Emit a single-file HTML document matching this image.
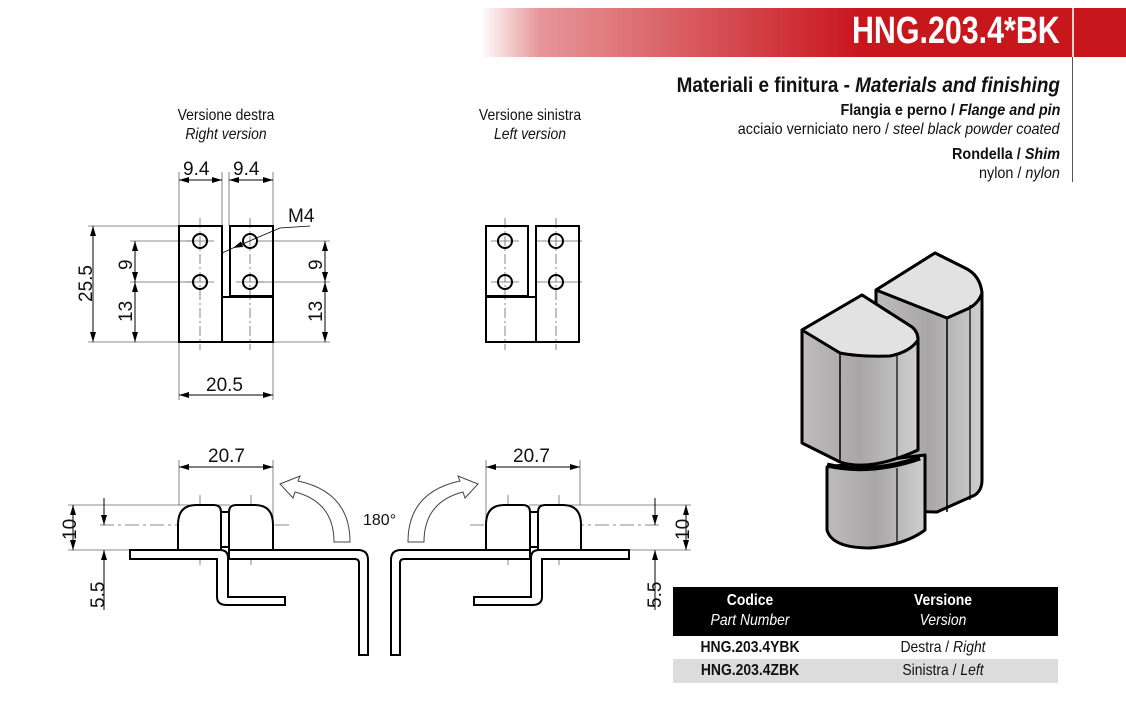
<!DOCTYPE html>
<html><head><meta charset="utf-8"><style>
html,body{margin:0;padding:0;background:#fff;}
body{width:1126px;height:708px;position:relative;overflow:hidden;font-family:"Liberation Sans",sans-serif;}
.t{position:absolute;white-space:nowrap;color:#111;}
.r{transform-origin:right center;transform:scaleX(0.9);}
.c{transform:translateX(-50%) scaleX(0.87);text-align:center;}
</style></head><body>
<div style="position:absolute;left:480px;top:8px;width:646px;height:49px;background:linear-gradient(to right,rgba(200,22,29,0) 0px,rgba(200,22,29,0.45) 60px,#c8161d 380px,#c8161d 100%);"></div>
<div style="position:absolute;left:1072px;top:8px;width:2px;height:49px;background:#f4d0d0;"></div>
<div style="position:absolute;left:1072px;top:57px;width:1px;height:125px;background:#555;"></div>
<div class="t" style="right:66px;top:10px;font-size:38px;font-weight:bold;color:#fff;transform-origin:right center;transform:scaleX(0.8);">HNG.203.4*BK</div>
<div class="t r" style="right:66px;top:74px;font-size:21px;font-weight:bold;">Materiali e finitura - <i>Materials and finishing</i></div>
<div class="t r" style="right:66px;top:102px;font-size:16px;font-weight:bold;">Flangia e perno / <i>Flange and pin</i></div>
<div class="t r" style="right:66px;top:121px;font-size:16px;">acciaio verniciato nero / <i>steel black powder coated</i></div>
<div class="t r" style="right:66px;top:146px;font-size:16px;font-weight:bold;">Rondella / <i>Shim</i></div>
<div class="t r" style="right:66px;top:165px;font-size:16px;">nylon / <i>nylon</i></div>

<div class="t c" style="left:226px;top:106px;font-size:16px;line-height:19px;">Versione destra<br><i>Right version</i></div>
<div class="t c" style="left:530px;top:106px;font-size:16px;line-height:19px;">Versione sinistra<br><i>Left version</i></div>

<div style="position:absolute;left:673px;top:587px;width:385px;height:49px;background:#000;"></div>
<div style="position:absolute;left:673px;top:659px;width:385px;height:24px;background:#dcdcdc;"></div>
<div class="t c" style="left:750px;top:591px;color:#fff;font-size:16px;line-height:20px;"><b>Codice</b><br><i>Part Number</i></div>
<div class="t c" style="left:943px;top:591px;color:#fff;font-size:16px;line-height:20px;"><b>Versione</b><br><i>Version</i></div>
<div class="t c" style="left:750px;top:639px;font-size:16px;font-weight:bold;">HNG.203.4YBK</div>
<div class="t c" style="left:943px;top:639px;font-size:16px;">Destra / <i>Right</i></div>
<div class="t c" style="left:750px;top:662px;font-size:16px;font-weight:bold;">HNG.203.4ZBK</div>
<div class="t c" style="left:943px;top:662px;font-size:16px;">Sinistra / <i>Left</i></div>

<svg width="1126" height="708" style="position:absolute;left:0;top:0" xmlns="http://www.w3.org/2000/svg">
<defs>
<marker id="a" markerWidth="10" markerHeight="6" refX="10" refY="3" orient="auto-start-reverse" markerUnits="userSpaceOnUse"><path d="M0,0 L10,3 L0,6 Z" fill="#000"/></marker>
<linearGradient id="g" x1="0" x2="1"><stop offset="0" stop-color="#bdbbbb"/><stop offset="0.5" stop-color="#a8a6a6"/><stop offset="1" stop-color="#cfcfcf"/></linearGradient>
<g id="bot">
<g stroke="#666" stroke-width="0.8" fill="none">
<line x1="179" y1="460" x2="179" y2="505"/><line x1="273" y1="460" x2="273" y2="530"/>
<line x1="68" y1="505" x2="230" y2="505"/><line x1="68" y1="550" x2="130" y2="550"/>
<line x1="100" y1="525" x2="290" y2="525" stroke-dasharray="14,4,3,4"/>
<line x1="200" y1="495" x2="200" y2="565" stroke-dasharray="12,3,3,3"/><line x1="251" y1="495" x2="251" y2="565" stroke-dasharray="12,3,3,3"/>
</g>
<g stroke="#000" stroke-width="1" fill="none">
<line x1="179" y1="467" x2="273" y2="467" marker-start="url(#a)" marker-end="url(#a)"/>
<line x1="73" y1="505" x2="73" y2="550" marker-start="url(#a)" marker-end="url(#a)"/>
<line x1="104" y1="498" x2="104" y2="525" marker-end="url(#a)"/>
<line x1="104" y1="610" x2="104" y2="550" marker-end="url(#a)"/>
</g>
<g stroke="#000" stroke-width="2" fill="#fff">
<path d="M178,550 V525 Q178,505 196,505 H214 Q221,505 221,512 V550 Z"/>
<path d="M229,550 V512 Q229,505 236,505 H255 Q273,505 273,525 V550 Z"/>
<rect x="221" y="512" width="8" height="35"/>
<path d="M130,550 H220 Q228,550 228,558 V597 H285 V605 H227 Q217,605 217,597 V559 H130 Z"/>
<path d="M229,550 H358 Q368,550 368,560 V655 H359 V563 Q359,559 355,559 H229 Z"/>
</g>
</g>
</defs>
<g font-family="Liberation Sans, sans-serif" font-size="19" fill="#111">
<g stroke="#666" stroke-width="0.8" fill="none">
<line x1="179" y1="172" x2="179" y2="400"/><line x1="222" y1="172" x2="222" y2="226"/><line x1="229" y1="172" x2="229" y2="226"/><line x1="273" y1="172" x2="273" y2="400"/>
<line x1="88" y1="226" x2="179" y2="226"/><line x1="88" y1="342" x2="179" y2="342"/>
<line x1="130" y1="241" x2="192" y2="241"/><line x1="130" y1="282" x2="192" y2="282"/>
<line x1="258" y1="241" x2="330" y2="241"/><line x1="258" y1="282" x2="330" y2="282"/><line x1="273" y1="342" x2="330" y2="342"/>
<line x1="200" y1="218" x2="200" y2="350" stroke-dasharray="10,3,2,3"/><line x1="250" y1="218" x2="250" y2="350" stroke-dasharray="10,3,2,3"/>
<line x1="186" y1="241" x2="214" y2="241"/><line x1="186" y1="282" x2="214" y2="282"/><line x1="236" y1="282" x2="264" y2="282"/>
</g>
<g stroke="#000" stroke-width="1" fill="none">
<line x1="179" y1="180" x2="222" y2="180" marker-start="url(#a)" marker-end="url(#a)"/>
<line x1="229" y1="180" x2="273" y2="180" marker-start="url(#a)" marker-end="url(#a)"/>
<line x1="93" y1="226" x2="93" y2="342" marker-start="url(#a)" marker-end="url(#a)"/>
<line x1="135" y1="241" x2="135" y2="282" marker-start="url(#a)" marker-end="url(#a)"/>
<line x1="135" y1="282" x2="135" y2="342" marker-start="url(#a)" marker-end="url(#a)"/>
<line x1="325" y1="241" x2="325" y2="282" marker-start="url(#a)" marker-end="url(#a)"/>
<line x1="325" y1="282" x2="325" y2="342" marker-start="url(#a)" marker-end="url(#a)"/>
<line x1="179" y1="395" x2="273" y2="395" marker-start="url(#a)" marker-end="url(#a)"/>
<polyline points="310,226 280,228 233,248" stroke-width="0.8" marker-end="url(#a)"/>
<line x1="222" y1="253" x2="233" y2="248" stroke-width="0.8"/>
</g>
<g stroke="#000" stroke-width="2" fill="none">
<rect x="179" y="226" width="43" height="116"/>
<rect x="230" y="226" width="43" height="70"/>
<rect x="222" y="297" width="51" height="45"/>
<circle cx="200" cy="241" r="7"/><circle cx="200" cy="282" r="7"/><circle cx="250" cy="241" r="7"/><circle cx="250" cy="282" r="7"/>
</g>
<text x="183" y="175">9.4</text><text x="233" y="175">9.4</text><text x="288" y="222">M4</text>
<text x="206" y="391">20.5</text>
<text transform="translate(92,302) rotate(-90)">25.5</text>
<text transform="translate(132,270) rotate(-90)">9</text>
<text transform="translate(132,322) rotate(-90)">13</text>
<text transform="translate(322,270) rotate(-90)">9</text>
<text transform="translate(322,322) rotate(-90)">13</text>

<g stroke="#666" stroke-width="0.8" fill="none">
<line x1="505" y1="218" x2="505" y2="350" stroke-dasharray="10,3,2,3"/><line x1="556" y1="218" x2="556" y2="350" stroke-dasharray="10,3,2,3"/>
<line x1="491" y1="241" x2="519" y2="241"/><line x1="491" y1="282" x2="519" y2="282"/>
<line x1="536" y1="241" x2="582" y2="241"/><line x1="536" y1="282" x2="582" y2="282"/>
</g>
<g stroke="#000" stroke-width="2" fill="none">
<rect x="486" y="226" width="42" height="70"/>
<rect x="486" y="297" width="50" height="45"/>
<rect x="536" y="226" width="43" height="116"/>
<circle cx="505" cy="241" r="7"/><circle cx="505" cy="282" r="7"/><circle cx="556" cy="241" r="7"/><circle cx="556" cy="282" r="7"/>
</g>

<use href="#bot"/>
<use href="#bot" transform="translate(759,0) scale(-1,1)"/>
<text x="208" y="462">20.7</text>
<text x="513" y="462">20.7</text>
<text transform="translate(76,540) rotate(-90)">10</text>
<text transform="translate(104,608) rotate(-90)">5.5</text>
<text transform="translate(689,540) rotate(-90)">10</text>
<text transform="translate(661,608) rotate(-90)">5.5</text>
<text x="363" y="525" font-size="16">180°</text>
<g stroke="#444" stroke-width="1" fill="#fff">
<path d="M334,542 L350,542 Q350,492 298,481 L300,476 L280,484 L293,498 L295,492 Q334,502 334,542 Z"/>
<path d="M424,542 L408,542 Q408,492 460,481 L458,476 L478,484 L465,498 L463,492 Q424,502 424,542 Z"/>
</g>

<g stroke="#000" stroke-width="3" stroke-linejoin="round">
<path d="M876,290 L876,500 Q900,512 937,512 L975,495 Q982,490 982,480 L982,293 Q980,275 965,268 L935,253 Z" fill="url(#g)"/>
<path d="M876,290 L935,253 L965,268 Q980,275 982,293 Q978,305 965,310 L947,318 Z" fill="#e2e2e2"/>
<line x1="947" y1="318" x2="947" y2="512" stroke-width="1.5"/>
<line x1="970" y1="305" x2="970" y2="500" stroke-width="1.2"/>
<path d="M827,467 L827,530 Q832,548 870,548 Q905,545 925,530 L925,455 Z" fill="url(#g)"/>
<path d="M802,330 L802,443 L840,462 Q870,472 918,450 L918,340 Q918,332 912,327 L862,295 Z" fill="url(#g)"/>
<path d="M802,330 L862,295 L912,327 Q918,332 918,340 Q910,352 890,356 Q860,357 840,353 Z" fill="#e2e2e2"/>
<line x1="840" y1="353" x2="840" y2="462" stroke-width="1.5"/>
<line x1="897" y1="355" x2="897" y2="458" stroke-width="1.2"/>
<path d="M827,465 Q870,475 920,458" fill="none" stroke-width="5"/>
<line x1="897" y1="468" x2="897" y2="543" stroke-width="1.2"/>
</g>
</g>
</svg>
</body></html>
